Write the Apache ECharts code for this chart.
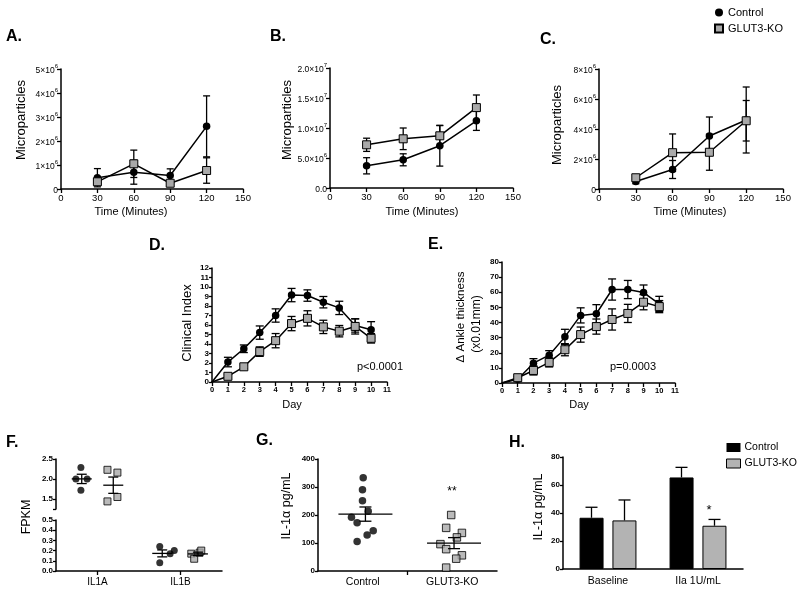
<!DOCTYPE html>
<html><head><meta charset="utf-8">
<script src="https://cdn.jsdelivr.net/npm/echarts@6/dist/echarts.min.js"></script>
<style>html,body{margin:0;padding:0;background:#fff}#c{width:800px;height:592px}</style>
</head><body><div id="c"></div>
<script>
// ---------------- DATA ----------------
const timeMin = [30, 60, 90, 120];
const aCtrl = [0.47e6, 0.70e6, 0.56e6, 2.61e6];
const aCtrlErr = [0.38e6, 0.50e6, 0.28e6, 1.27e6];
const aKO = [0.30e6, 1.05e6, 0.24e6, 0.77e6];
const aKOErr = [0.15e6, 0.57e6, 0.12e6, 0.53e6];

const bCtrl = [3.7e6, 4.7e6, 7.05e6, 11.2e6];
const bCtrlErr = [1.35e6, 1.0e6, 3.4e6, 1.6e6];
const bKO = [7.2e6, 8.2e6, 8.7e6, 13.4e6];
const bKOErr = [1.1e6, 1.8e6, 1.7e6, 2.1e6];

const cCtrl = [0.5e6, 1.3e6, 3.53e6, 4.6e6];
const cCtrlErr = [0.15e6, 0.6e6, 1.27e6, 2.2e6];
const cKO = [0.75e6, 2.42e6, 2.45e6, 4.55e6];
const cKOErr = [0.2e6, 1.25e6, 1.2e6, 1.35e6];

const days = [0, 1, 2, 3, 4, 5, 6, 7, 8, 9, 10];
const dCtrl = [0, 2.1, 3.5, 5.2, 7.0, 9.15, 9.1, 8.4, 7.8, 5.95, 5.5];
const dCtrlErr = [0, 0.5, 0.4, 0.7, 0.7, 0.7, 0.6, 0.6, 0.7, 0.7, 0.85];
const dKO = [0, 0.6, 1.6, 3.2, 4.35, 6.15, 6.7, 5.8, 5.35, 5.85, 4.6];
const dKOErr = [0, 0.2, 0.2, 0.5, 0.75, 0.75, 0.8, 0.7, 0.6, 0.8, 0.5];

const eCtrl = [0, 2.5, 13.1, 18.4, 30.5, 44.7, 45.8, 61.8, 61.8, 59.8, 52.3];
const eCtrlErr = [0, 1.5, 3, 3, 5, 5, 6, 7, 6, 5, 5];
const eKO = [0, 3.5, 8.3, 13.6, 22, 32, 37.3, 42, 46, 53.4, 50.5];
const eKOErr = [0, 1, 3, 3, 4, 5, 5, 7, 6, 5, 4];

const fGenes = ['IL1A', 'IL1B'];
const fIL1A_ctrl = [2.29, 2.00, 2.00, 1.72];
const fIL1A_ctrl_x = [0.60, 0.48, 0.75, 0.60];
const fIL1A_ko = [2.23, 2.16, 1.55, 1.44];
const fIL1A_ko_x = [1.24, 1.48, 1.48, 1.24];
const fIL1B_ctrl = [0.24, 0.08, 0.17, 0.20];
const fIL1B_ctrl_x = [2.50, 2.50, 2.75, 2.85];
const fIL1B_ko = [0.17, 0.12, 0.18, 0.20];
const fIL1B_ko_x = [3.26, 3.33, 3.46, 3.50];
const fGroupCenters = [0.62, 1.38, 2.56, 3.42];
const fGenePos = [1, 3];

const gGroups = ['Control', 'GLUT3-KO'];
const gCtrl = [333, 290, 251, 213, 192, 172, 144, 129, 105];
const gCtrl_x = [0.505, 0.497, 0.497, 0.561, 0.374, 0.437, 0.617, 0.549, 0.437];
const gKO = [200, 154, 136, 120, 96, 78, 56, 44, 12];
const gKO_x = [1.488, 1.432, 1.608, 1.552, 1.368, 1.432, 1.608, 1.544, 1.432];
const gGroupCenters = [0.53, 1.52];

const hCats = ['Baseline', 'IIa 1U/mL'];
const hCtrl = [36.6, 65.4];
const hCtrlErr = [7.5, 7.2];
const hKO = [34.7, 30.9];
const hKOErr = [14.6, 4.5];

// ---------------- STYLE HELPERS ----------------
const FONT = 'Liberation Sans, Arial, Helvetica, sans-serif';
const GREY = '#a9a9a9';
const AL = {show: true, lineStyle: {color: '#000', width: 1.5}};
const TK = (len) => ({show: true, inside: false, length: len || 4, lineStyle: {color: '#000', width: 1.3}});

function valAxis(grid, min, max, interval, extra) {
  return Object.assign({
    type: 'value', gridIndex: grid, min, max, interval,
    axisLine: AL, axisTick: TK(4), splitLine: {show: false},
    axisLabel: {color: '#000', fontSize: 9, fontFamily: FONT, margin: 4}
  }, extra || {});
}

const supRich = {
  m: {fontSize: 8.5, fontFamily: FONT, color: '#000', lineHeight: 12, verticalAlign: 'bottom'},
  s: {fontSize: 6, fontFamily: FONT, color: '#000', lineHeight: 12, verticalAlign: 'top'}
};
function sciFmt(dec) {
  return function (v) {
    if (v === 0) return dec ? '{m|' + (0).toFixed(dec) + '}' : '{m|0}';
    const e = Math.floor(Math.log10(v) + 1e-9);
    const m = v / Math.pow(10, e);
    return '{m|' + (dec ? m.toFixed(dec) : String(Math.round(m))) + '×10}{s|' + e + '}';
  };
}

function errBars(xi, yi, xs, means, errs, halfCap) {
  return {
    type: 'custom', xAxisIndex: xi, yAxisIndex: yi, z: 1, silent: true,
    encode: {x: 0, y: 1},
    data: xs.map((x, i) => [x, means[i], errs[i]]),
    renderItem(params, api) {
      const x = api.value(0), m = api.value(1), e = api.value(2);
      if (!e) return {type: 'group', children: []};
      const t = api.coord([x, m + e]), b = api.coord([x, m - e]);
      const st = {stroke: '#000', lineWidth: 1.3};
      return {type: 'group', children: [
        {type: 'line', shape: {x1: t[0], y1: t[1], x2: b[0], y2: b[1]}, style: st},
        {type: 'line', shape: {x1: t[0] - halfCap, y1: t[1], x2: t[0] + halfCap, y2: t[1]}, style: st},
        {type: 'line', shape: {x1: b[0] - halfCap, y1: b[1], x2: b[0] + halfCap, y2: b[1]}, style: st}
      ]};
    }
  };
}

function meanSem(xi, yi, centers, groups, halfLine, halfCap) {
  const data = groups.map((g, i) => {
    const n = g.length;
    const m = g.reduce((a, b) => a + b, 0) / n;
    const sd = Math.sqrt(g.reduce((a, b) => a + (b - m) * (b - m), 0) / (n - 1));
    return [centers[i], m, sd / Math.sqrt(n)];
  });
  return {
    type: 'custom', xAxisIndex: xi, yAxisIndex: yi, z: 6, silent: true,
    encode: {x: 0, y: 1}, data,
    renderItem(params, api) {
      const x = api.value(0), m = api.value(1), e = api.value(2);
      const c = api.coord([x, m]), t = api.coord([x, m + e]), b = api.coord([x, m - e]);
      const st = {stroke: '#000', lineWidth: 1.3};
      return {type: 'group', children: [
        {type: 'line', shape: {x1: c[0] - halfLine, y1: c[1], x2: c[0] + halfLine, y2: c[1]}, style: st},
        {type: 'line', shape: {x1: t[0], y1: t[1], x2: b[0], y2: b[1]}, style: st},
        {type: 'line', shape: {x1: t[0] - halfCap, y1: t[1], x2: t[0] + halfCap, y2: t[1]}, style: st},
        {type: 'line', shape: {x1: b[0] - halfCap, y1: b[1], x2: b[0] + halfCap, y2: b[1]}, style: st}
      ]};
    }
  };
}

function barErr(xi, yi, means, errs, dx, halfCap) {
  return {
    type: 'custom', xAxisIndex: xi, yAxisIndex: yi, z: 1, silent: true,
    data: means.map((m, i) => [i, m, errs[i]]),
    renderItem(params, api) {
      const i = api.value(0), m = api.value(1), e = api.value(2);
      const b = api.coord([i, m]), t = api.coord([i, m + e]);
      const x = b[0] + dx;
      const st = {stroke: '#000', lineWidth: 1.3};
      return {type: 'group', children: [
        {type: 'line', shape: {x1: x, y1: b[1], x2: x, y2: t[1]}, style: st},
        {type: 'line', shape: {x1: x - halfCap, y1: t[1], x2: x + halfCap, y2: t[1]}, style: st}
      ]};
    }
  };
}

const hideFirst = (v, p) => (p.dataIndex === 0 ? 0 : 7.5);
const hideFirstSq = (v, p) => (p.dataIndex === 0 ? 0 : 8);

function lineSeries(name, xi, yi, xs, ys, ko, hide) {
  return {
    type: 'line', name, xAxisIndex: xi, yAxisIndex: yi, z: ko ? 4 : 3,
    data: xs.map((x, i) => [x, ys[i]]),
    symbol: ko ? 'rect' : 'circle',
    symbolSize: hide ? (ko ? hideFirstSq : hideFirst) : (ko ? 8 : 7.5),
    lineStyle: {color: '#000', width: 1.5},
    itemStyle: ko ? {color: GREY, borderColor: '#000', borderWidth: 1} : {color: '#000', borderColor: '#000', borderWidth: 0},
    emphasis: {disabled: true}, animation: false
  };
}
function scatter(name, xi, yi, xs, ys, ko, size) {
  return {
    type: 'scatter', name, xAxisIndex: xi, yAxisIndex: yi, z: 4,
    data: xs.map((x, i) => [x, ys[i]]),
    symbol: ko ? 'rect' : 'circle', symbolSize: size,
    itemStyle: ko ? {color: GREY, borderColor: '#000', borderWidth: 1} : {color: '#000'},
    emphasis: {disabled: true}
  };
}

function T(text, x, y, size, o) {
  o = o || {};
  return {
    type: 'text', x, y, rotation: o.rot ? Math.PI / 2 : 0, silent: true,
    style: {
      text, x: 0, y: 0, fill: '#000',
      font: (o.bold ? 'bold ' : '') + size + 'px ' + FONT,
      textAlign: o.align || 'center', textVerticalAlign: 'middle',
      align: o.align || 'center', verticalAlign: 'middle'
    }
  };
}

// ---------------- GRIDS ----------------
const grids = [
  {left: 61, top: 69, width: 182, height: 120},   // 0 A
  {left: 330, top: 68, width: 183, height: 120},  // 1 B
  {left: 599, top: 69, width: 184, height: 120},  // 2 C
  {left: 212, top: 268, width: 175, height: 114}, // 3 D
  {left: 502, top: 262, width: 173, height: 121}, // 4 E
  {left: 56, top: 459, width: 166, height: 50},   // 5 F top
  {left: 56, top: 520, width: 166, height: 51},   // 6 F bottom
  {left: 318, top: 459, width: 179, height: 112}, // 7 G
  {left: 563, top: 457, width: 180, height: 112}  // 8 H
].map(g => Object.assign({outerBoundsMode: 'none', containLabel: false}, g));

const timeX = (g) => valAxis(g, 0, 150, 30, {axisLabel: {color: '#000', fontSize: 9.5, fontFamily: FONT, margin: 4}});
const dayX = (g) => valAxis(g, 0, 11, 1, {axisLabel: {color: '#000', fontSize: 7.5, fontWeight: 'bold', fontFamily: FONT, margin: 4}});

const xAxes = [
  timeX(0), timeX(1), timeX(2), dayX(3), dayX(4),
  valAxis(5, 0, 4, 1, {show: false}),
  valAxis(6, 0, 4, 1, {
    axisTick: Object.assign(TK(4), {customValues: fGenePos}),
    axisLabel: {color: '#000', fontSize: 10, fontFamily: FONT, margin: 6, customValues: fGenePos,
      formatter: v => fGenes[fGenePos.indexOf(v)] || ''}
  }),
  valAxis(7, 0, 2, 0.5, {
    axisTick: Object.assign(TK(4), {customValues: [1]}),
    axisLabel: {color: '#000', fontSize: 10.5, fontFamily: FONT, margin: 6, customValues: [0.5, 1.5],
      formatter: v => gGroups[Math.round(v - 0.5)] || ''}
  }),
  {type: 'category', gridIndex: 8, data: hCats, axisLine: AL, axisTick: {show: false},
    axisLabel: {color: '#000', fontSize: 10.5, fontFamily: FONT, margin: 7}}
];

const yAxes = [
  valAxis(0, 0, 5e6, 1e6, {axisLabel: {formatter: sciFmt(0), rich: supRich, margin: 3}}),
  valAxis(1, 0, 2e7, 5e6, {axisLabel: {formatter: sciFmt(1), rich: supRich, margin: 3}}),
  valAxis(2, 0, 8e6, 2e6, {axisLabel: {formatter: sciFmt(0), rich: supRich, margin: 3}}),
  valAxis(3, 0, 12, 1, {axisTick: TK(3), axisLabel: {color: '#000', fontSize: 8, fontWeight: 'bold', fontFamily: FONT, margin: 3}}),
  valAxis(4, 0, 80, 10, {axisTick: TK(3), axisLabel: {color: '#000', fontSize: 8, fontWeight: 'bold', fontFamily: FONT, margin: 3}}),
  valAxis(5, 1.25, 2.5, 0.25, {
    axisTick: Object.assign(TK(3), {customValues: [1.25, 1.5, 2.0, 2.5]}),
    axisLabel: {color: '#000', fontSize: 8, fontWeight: 'bold', fontFamily: FONT, margin: 3,
      customValues: [1.5, 2.0, 2.5], formatter: v => v.toFixed(1)}
  }),
  valAxis(6, 0, 0.5, 0.1, {axisTick: TK(3), axisLabel: {color: '#000', fontSize: 8, fontWeight: 'bold', fontFamily: FONT, margin: 3, formatter: v => v.toFixed(1)}}),
  valAxis(7, 0, 400, 100, {axisTick: TK(3), axisLabel: {color: '#000', fontSize: 8, fontWeight: 'bold', fontFamily: FONT, margin: 3}}),
  valAxis(8, 0, 80, 20, {axisTick: TK(3), axisLabel: {color: '#000', fontSize: 8, fontWeight: 'bold', fontFamily: FONT, margin: 3}})
];

// ---------------- SERIES ----------------
const series = [
  errBars(0, 0, timeMin, aCtrl, aCtrlErr, 3.5), errBars(0, 0, timeMin, aKO, aKOErr, 3.5),
  lineSeries('Control', 0, 0, timeMin, aCtrl, false), lineSeries('GLUT3-KO', 0, 0, timeMin, aKO, true),
  errBars(1, 1, timeMin, bCtrl, bCtrlErr, 3.5), errBars(1, 1, timeMin, bKO, bKOErr, 3.5),
  lineSeries('Control', 1, 1, timeMin, bCtrl, false), lineSeries('GLUT3-KO', 1, 1, timeMin, bKO, true),
  errBars(2, 2, timeMin, cCtrl, cCtrlErr, 3.5), errBars(2, 2, timeMin, cKO, cKOErr, 3.5),
  lineSeries('Control', 2, 2, timeMin, cCtrl, false), lineSeries('GLUT3-KO', 2, 2, timeMin, cKO, true),
  errBars(3, 3, days, dCtrl, dCtrlErr, 4), errBars(3, 3, days, dKO, dKOErr, 4),
  lineSeries('Control', 3, 3, days, dCtrl, false, true), lineSeries('GLUT3-KO', 3, 3, days, dKO, true, true),
  errBars(4, 4, days, eCtrl, eCtrlErr, 4), errBars(4, 4, days, eKO, eKOErr, 4),
  lineSeries('Control', 4, 4, days, eCtrl, false, true), lineSeries('GLUT3-KO', 4, 4, days, eKO, true, true),
  scatter('Control', 5, 5, fIL1A_ctrl_x, fIL1A_ctrl, false, 7),
  scatter('GLUT3-KO', 5, 5, fIL1A_ko_x, fIL1A_ko, true, 7),
  meanSem(5, 5, fGroupCenters.slice(0, 2), [fIL1A_ctrl, fIL1A_ko], 10, 5),
  scatter('Control', 6, 6, fIL1B_ctrl_x, fIL1B_ctrl, false, 7),
  scatter('GLUT3-KO', 6, 6, fIL1B_ko_x, fIL1B_ko, true, 7),
  meanSem(6, 6, fGroupCenters.slice(2, 4), [fIL1B_ctrl, fIL1B_ko], 10, 5),
  scatter('Control', 7, 7, gCtrl_x, gCtrl, false, 7.5),
  scatter('GLUT3-KO', 7, 7, gKO_x, gKO, true, 7.5),
  meanSem(7, 7, gGroupCenters, [gCtrl, gKO], 27, 6),
  {type: 'bar', name: 'Control', xAxisIndex: 8, yAxisIndex: 8, data: hCtrl, barWidth: 24, barGap: '37%',
    itemStyle: {color: '#000', borderColor: '#000', borderWidth: 1}, z: 2, emphasis: {disabled: true}},
  {type: 'bar', name: 'GLUT3-KO', xAxisIndex: 8, yAxisIndex: 8, data: hKO, barWidth: 24, barGap: '37%',
    itemStyle: {color: '#b3b3b3', borderColor: '#000', borderWidth: 1}, z: 2, emphasis: {disabled: true}},
  barErr(8, 8, hCtrl, hCtrlErr, -16.5, 6),
  barErr(8, 8, hKO, hKOErr, 16.5, 6)
];

// ---------------- TEXT ----------------
const graphic = [
  T('A.', 6, 37, 16, {bold: true, align: 'left'}),
  T('B.', 270, 37, 16, {bold: true, align: 'left'}),
  T('C.', 540, 40, 16, {bold: true, align: 'left'}),
  T('D.', 149, 246, 16, {bold: true, align: 'left'}),
  T('E.', 428, 245, 16, {bold: true, align: 'left'}),
  T('F.', 6, 443, 16, {bold: true, align: 'left'}),
  T('G.', 256, 441, 16, {bold: true, align: 'left'}),
  T('H.', 509, 443, 16, {bold: true, align: 'left'}),
  T('Microparticles', 21, 120, 13, {rot: true}),
  T('Microparticles', 287, 120, 13, {rot: true}),
  T('Microparticles', 557, 125, 13, {rot: true}),
  T('Time (Minutes)', 131, 212, 11),
  T('Time (Minutes)', 422, 212, 11),
  T('Time (Minutes)', 690, 212, 11),
  T('Clinical Index', 187, 323, 13, {rot: true}),
  T('Δ Ankle thickness', 461, 317, 11.5, {rot: true}),
  T('(x0.01mm)', 477, 324, 12, {rot: true}),
  T('Day', 292, 405, 11),
  T('Day', 579, 405, 11),
  T('p<0.0001', 380, 367, 11),
  T('p=0.0003', 633, 367, 11),
  T('FPKM', 27, 517, 12.5, {rot: true}),
  T('IL-1α pg/mL', 287, 506, 12.5, {rot: true}),
  T('IL-1α pg/mL', 539, 507, 12.5, {rot: true}),
  T('**', 452, 492, 12),
  T('*', 709, 510, 13)
];

const chart = echarts.init(document.getElementById('c'));
chart.setOption({
  animation: false,
  backgroundColor: '#fff',
  textStyle: {fontFamily: FONT},
  grid: grids,
  xAxis: xAxes,
  yAxis: yAxes,
  series,
  graphic,
  legend: [
    {orient: 'vertical', left: 709, top: 2, itemWidth: 8, itemHeight: 8, itemGap: 5, selectedMode: false,
      textStyle: {fontSize: 11, fontFamily: FONT, color: '#000'},
      data: [{name: 'Control', icon: 'circle'}, {name: 'GLUT3-KO', icon: 'rect'}]},
    {orient: 'vertical', left: 721, top: 437, itemWidth: 14, itemHeight: 9, itemGap: 5, selectedMode: false,
      textStyle: {fontSize: 10.5, fontFamily: FONT, color: '#000', padding: [0, 0, 0, -1]},
      data: [{name: 'Control', icon: 'rect', itemStyle: {color: '#000'}}, {name: 'GLUT3-KO', icon: 'rect', itemStyle: {color: '#b3b3b3', borderColor: '#000', borderWidth: 1}}]}
  ]
});
</script>
</body></html>
